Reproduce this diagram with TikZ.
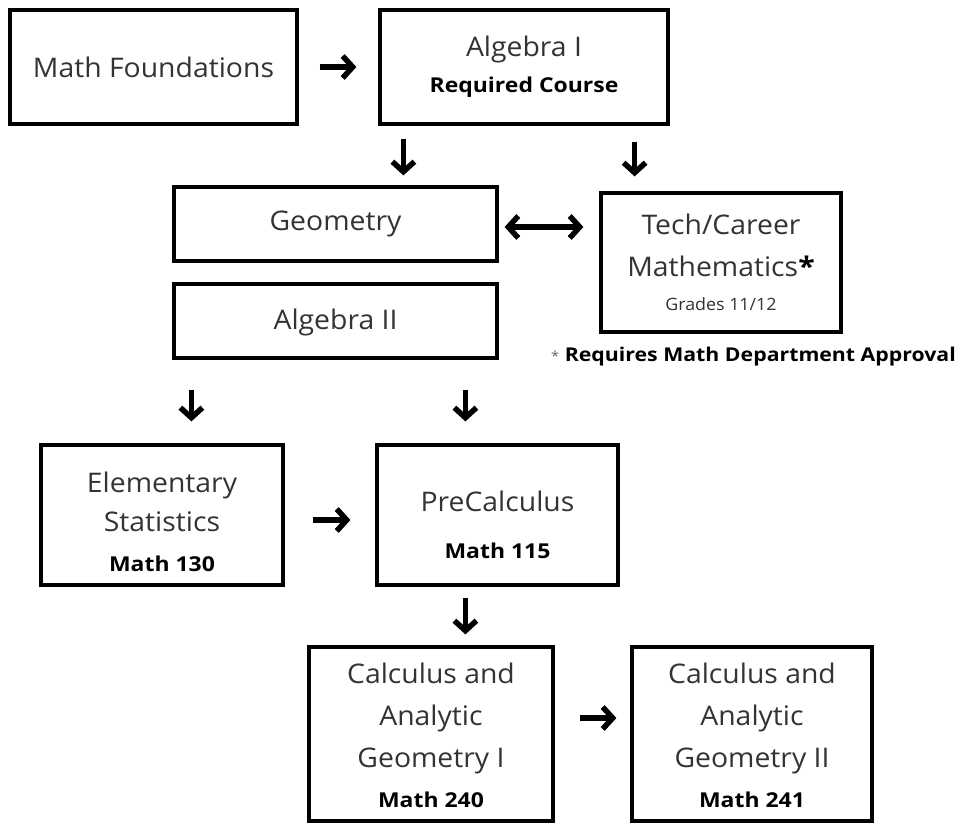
\documentclass[tikz,border=0pt]{standalone}
\usepackage{fontspec}
\setmainfont{Open Sans}[UprightFeatures={FakeStretch=1.05}, BoldFeatures={FakeStretch=1.12}]
\usetikzlibrary{arrows.meta, calc}

\begin{document}
\begin{tikzpicture}[x=1pt, y=-1pt,
  course/.style={draw, line width=3.2pt, align=center, inner sep=0pt,
                 text=black!80, font=\fontsize{27}{42}\selectfont},
  arr/.style={line width=5.5pt, -{Straight Barb[length=10pt, width=22pt]}},
  dblarr/.style={line width=5.5pt, {Straight Barb[length=10pt, width=22pt]}-{Straight Barb[length=10pt, width=22pt]}}]
  \newcommand{\bnum}[1]{{\bfseries\fontsize{20.5}{24}\selectfont\color{black} #1}}
  \useasboundingbox (0,0) rectangle (959,824);

  % first row
  \node[course, minimum width=287, minimum height=114] (found) at (153.5,67) {Math Foundations};
  \node[course, minimum width=288, minimum height=114] (algone) at (524,67)
    {Algebra I\\[-6pt]\bnum{Required Course}};

  % second row
  \node[course, minimum width=323, minimum height=74] (geom) at (335.5,224) {Geometry};
  \node[course, minimum width=323, minimum height=74] (algtwo) at (335.5,321) {\rule{0pt}{24pt}Algebra II};
  \node[course, minimum width=240, minimum height=139] (tech) at (721,262.5)
    {Tech/Career\\Mathematics{\bfseries\color{black}*}\\[-8pt]{\fontsize{17}{22}\selectfont Grades 11/12}};
  \node[anchor=east, inner sep=0pt, font=\bfseries\fontsize{19}{24}\selectfont] (note) at (956,357)
    {{\mdseries\color{black!60}\fontsize{14}{18}\selectfont *} Requires Math Department Approval};

  % third row
  \node[course, minimum width=242, minimum height=140] (stats) at (162,515)
    {\rule{0pt}{34pt}Elementary\\[-3pt]Statistics\\[-2pt]\bnum{Math 130}};
  \node[course, minimum width=241, minimum height=140] (precalc) at (497.5,515)
    {\rule{0pt}{40pt}PreCalculus\\[5pt]\bnum{Math 115}};

  % calculus
  \node[course, minimum width=244, minimum height=174] (calcone) at (431,734)
    {\rule{0pt}{24pt}Calculus and\\Analytic\\Geometry I\\[-2pt]\bnum{Math 240}};
  \node[course, minimum width=240, minimum height=174] (calctwo) at (752,734)
    {\rule{0pt}{24pt}Calculus and\\Analytic\\Geometry II\\[-2pt]\bnum{Math 241}};

  % arrows
  \draw[arr, shorten <=21pt, shorten >=22pt] (found.east) -- (algone.west);
  \draw[arr, shorten <=13pt, shorten >=10pt] ([xshift=25pt]algone.south west) -- ([xshift=25pt]algone.south west |- geom.north);
  \draw[arr, shorten <=16pt, shorten >=15pt] ([xshift=-35pt]algone.south east) -- ([xshift=-35pt]algone.south east |- tech.north);
  \draw[dblarr, shorten <=6pt, shorten >=16pt] ([yshift=-3pt]geom.east) -- ([yshift=-3pt]geom.east -| tech.west);
  \draw[arr, shorten <=30pt, shorten >=22pt] ([xshift=19pt]algtwo.south west) -- ([xshift=19pt]algtwo.south west |- stats.north);
  \draw[arr, shorten <=30pt, shorten >=22pt] ([xshift=293pt]algtwo.south west) -- ([xshift=293pt]algtwo.south west |- stats.north);
  \draw[arr, shorten <=28pt, shorten >=25pt] ([yshift=-5pt]stats.east) -- ([yshift=-5pt]stats.east -| precalc.west);
  \draw[arr, shorten <=11pt, shorten >=11pt] ([xshift=90pt]precalc.south west) -- ([xshift=90pt]precalc.south west |- calcone.north);
  \draw[arr, shorten <=25pt, shorten >=14pt] ([yshift=16pt]calcone.east) -- ([yshift=16pt]calcone.east -| calctwo.west);
\end{tikzpicture}
\end{document}
